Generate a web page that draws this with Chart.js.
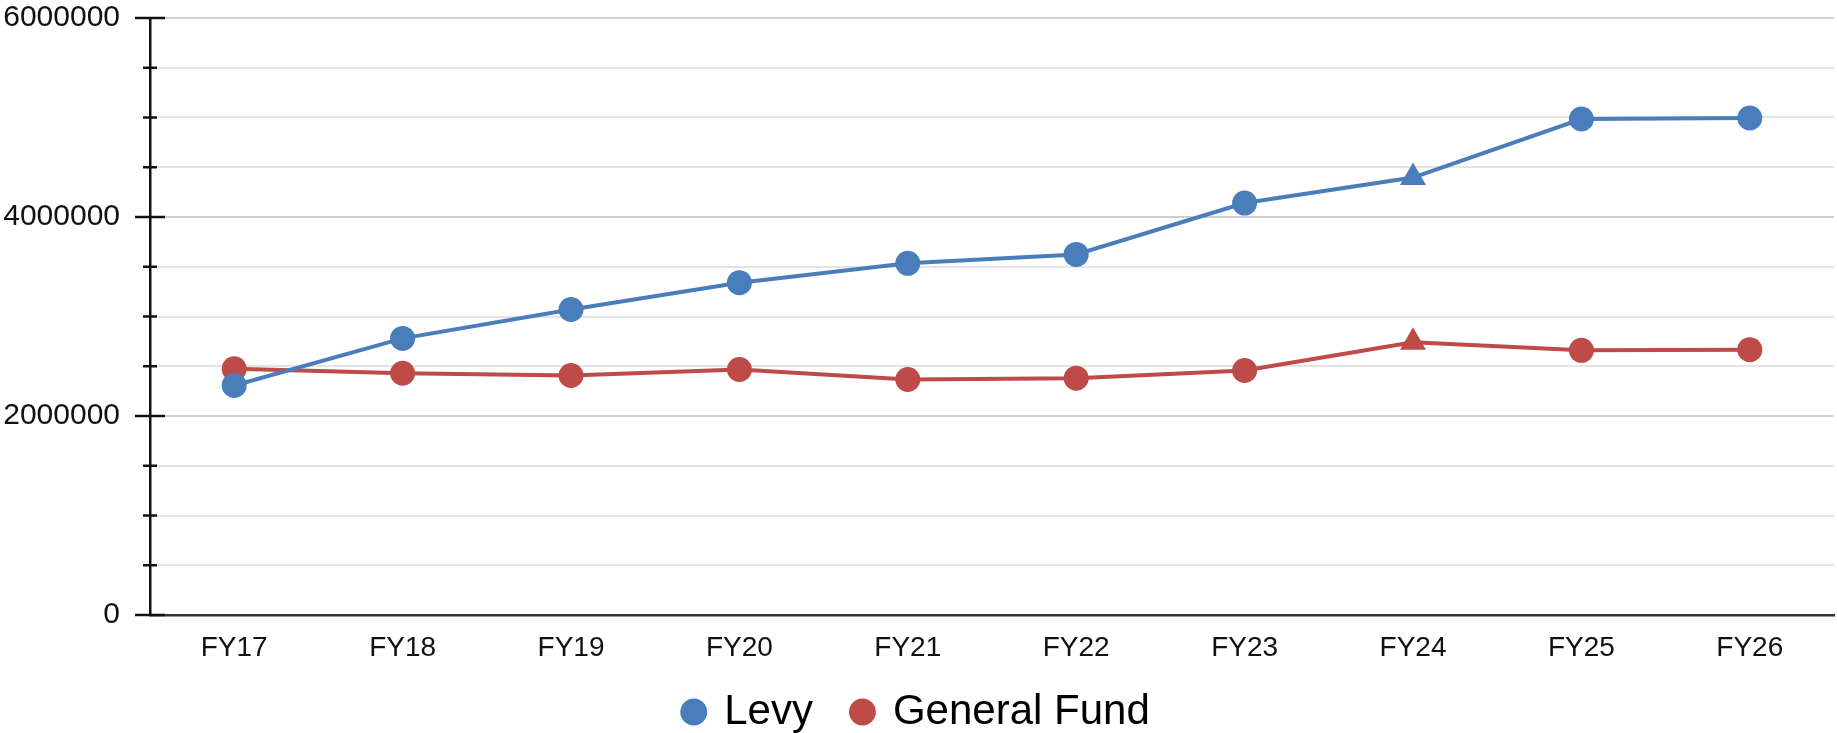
<!DOCTYPE html>
<html>
<head>
<meta charset="utf-8">
<script src="https://cdn.jsdelivr.net/npm/chart.js@4.4.1/dist/chart.umd.min.js"></script>
<style>
  html, body { margin: 0; padding: 0; background: #fff; }
  #wrap { width: 1837px; height: 733px; }
</style>
</head>
<body>
<div id="wrap"><canvas id="fundChart" width="1837" height="733"></canvas></div>
<script>
// data
const years = ["FY17", "FY18", "FY19", "FY20", "FY21", "FY22", "FY23", "FY24", "FY25", "FY26"];
const levy = [2307000, 2780000, 3070000, 3340000, 3534000, 3624000, 4140000, 4396000, 4985000, 4995000];
const generalFund = [2474000, 2430000, 2407000, 2467000, 2367000, 2380000, 2457000, 2741000, 2660000, 2667000];
const markerStyles = ["circle", "circle", "circle", "circle", "circle", "circle", "circle", "triangle", "circle", "circle"];
const yMin = 0;
const yMax = 6000000;
const yStep = 500000;
const yLabelStep = 2000000;

const BLUE = "#4a7ebb";
const RED = "#be4b48";
const FONT = "'Liberation Sans', Arial, Helvetica, sans-serif";

const markerSizes = markerStyles.map(s => s === "triangle" ? 15 : 12.5);

// cross ticks on the y axis (major ones longer)
const axisTicks = {
    id: "axisTicks",
    afterDraw(chart) {
        const yScale = chart.scales.y;
        const ctx = chart.ctx;
        const x0 = chart.chartArea.left;
        ctx.save();
        ctx.strokeStyle = "#111";
        ctx.lineWidth = 2.5;
        yScale.ticks.forEach(t => {
            const py = yScale.getPixelForValue(t.value);
            const len = t.value % yLabelStep === 0 ? 15 : 7;
            ctx.beginPath();
            ctx.moveTo(x0 - len, py);
            ctx.lineTo(x0 + len, py);
            ctx.stroke();
        });
        ctx.restore();
    }
};

// keep the legend box at a fixed height so the plot area stays put,
// then pull it up a bit (its label padding also sets the item gap)
const legendPlace = {
    id: "legendPlace",
    beforeLayout(chart) {
        const lg = chart.legend;
        if (lg && !lg._fixed) {
            const origFit = lg.fit;
            lg.fit = function() {
                origFit.call(this);
                this.height = 60;
            };
            lg._fixed = true;
        }
    },
    afterLayout(chart) {
        const lg = chart.legend;
        if (lg) {
            lg.top = 651;
            lg.bottom = chart.height;
            lg.height = lg.bottom - lg.top;
        }
    }
};

const ctx = document.getElementById("fundChart").getContext("2d");
new Chart(ctx, {
    type: "line",
    data: {
        labels: years,
        datasets: [
            {
                label: "Levy",
                data: levy,
                borderColor: BLUE,
                backgroundColor: BLUE,
                borderWidth: 4,
                pointStyle: markerStyles,
                pointRadius: markerSizes,
                pointBorderWidth: 0,
                tension: 0
            },
            {
                label: "General Fund",
                data: generalFund,
                borderColor: RED,
                backgroundColor: RED,
                borderWidth: 4,
                pointStyle: markerStyles,
                pointRadius: markerSizes,
                pointBorderWidth: 0,
                tension: 0
            }
        ]
    },
    options: {
        responsive: false,
        animation: false,
        devicePixelRatio: 1,
        layout: { autoPadding: false, padding: { top: 0, right: 3, left: 0, bottom: 0 } },
        plugins: {
            legend: {
                position: "bottom",
                labels: {
                    usePointStyle: true,
                    pointStyle: "circle",
                    boxWidth: 19,
                    boxHeight: 19,
                    padding: 40,
                    color: "#000",
                    font: { family: FONT, size: 42 }
                }
            },
            tooltip: { enabled: false }
        },
        scales: {
            x: {
                offset: true,
                grid: { display: true, drawOnChartArea: false, drawTicks: true, tickLength: 16, tickColor: "rgba(0,0,0,0)" },
                border: { display: true, color: "#333", width: 2.5 },
                ticks: {
                    color: "#111",
                    padding: 0,
                    font: { family: FONT, size: 28 }
                },
                afterFit(scale) {
                    scale.height = 58;
                    scale.paddingRight = 0;
                }
            },
            y: {
                min: yMin,
                max: yMax,
                border: { display: true, color: "#111", width: 2.5 },
                grid: {
                    drawTicks: true,
                    tickLength: 30,
                    tickColor: "rgba(0,0,0,0)",
                    lineWidth: 2,
                    color: c => (c.tick && c.tick.value % yLabelStep === 0) ? "#cfcfcf" : "#e4e4e4"
                },
                ticks: {
                    stepSize: yStep,
                    autoSkip: false,
                    color: "#111",
                    padding: 0,
                    font: { family: FONT, size: 30 },
                    callback: v => v % yLabelStep === 0 ? String(v) : ""
                },
                afterFit(scale) { scale.width = 150; }
            }
        }
    },
    plugins: [axisTicks, legendPlace]
});
</script>
</body>
</html>
